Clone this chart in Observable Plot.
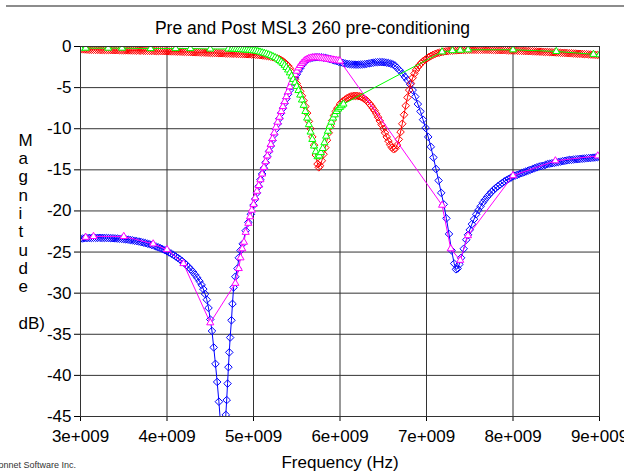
<!DOCTYPE html>
<html>
<head>
<meta charset="utf-8">
<script src="https://cdn.jsdelivr.net/npm/d3@7"></script>
<script src="https://cdn.jsdelivr.net/npm/@observablehq/plot@0.6"></script>
<style>
  html, body { margin: 0; padding: 0; background: #fff; }
  #wrap { position: relative; width: 624px; height: 475px; overflow: hidden; }
</style>
</head>
<body>
<div id="wrap"></div>
<script>
// ---- tick values / labels ----
const xTicks = [3, 4, 5, 6, 7, 8, 9];            // GHz
const xTickLabels = ["3e+009", "4e+009", "5e+009", "6e+009", "7e+009", "8e+009", "9e+009"];
const yTicks = [0, -5, -10, -15, -20, -25, -30, -35, -40, -45];

const titleText = "Pre and Post MSL3 260 pre-conditioning";
const xLabel = "Frequency (Hz)";
const yLabelLines = ["M", "a", "g", "n", "i", "t", "u", "d", "e", "\u00a0", "dB)"];
const captionText = "Sonnet Software Inc.";

// ---- series: [frequency (GHz), magnitude (dB)] ----
// Red diamonds (pre)
const redPts = [
  [3.000,-0.35],[3.025,-0.35],[3.050,-0.36],[3.075,-0.38],[3.100,-0.40],[3.125,-0.40],[3.150,-0.40],[3.175,-0.41],
  [3.200,-0.41],[3.225,-0.42],[3.250,-0.42],[3.275,-0.42],[3.300,-0.43],[3.325,-0.43],[3.350,-0.44],[3.375,-0.44],
  [3.400,-0.45],[3.425,-0.45],[3.450,-0.46],[3.475,-0.46],[3.500,-0.47],[3.525,-0.47],[3.550,-0.48],[3.575,-0.48],
  [3.600,-0.49],[3.625,-0.49],[3.650,-0.50],[3.675,-0.50],[3.700,-0.51],[3.725,-0.51],[3.750,-0.52],[3.775,-0.52],
  [3.800,-0.53],[3.825,-0.54],[3.850,-0.54],[3.875,-0.55],[3.900,-0.55],[3.925,-0.56],[3.950,-0.57],[3.975,-0.57],
  [4.000,-0.58],[4.025,-0.59],[4.050,-0.60],[4.075,-0.60],[4.100,-0.61],[4.125,-0.62],[4.150,-0.63],[4.175,-0.64],
  [4.200,-0.65],[4.225,-0.66],[4.250,-0.67],[4.275,-0.68],[4.300,-0.69],[4.325,-0.70],[4.350,-0.71],[4.375,-0.72],
  [4.400,-0.73],[4.425,-0.74],[4.450,-0.75],[4.475,-0.76],[4.500,-0.77],[4.525,-0.78],[4.550,-0.79],[4.575,-0.80],
  [4.600,-0.81],[4.625,-0.82],[4.650,-0.83],[4.675,-0.84],[4.700,-0.85],[4.725,-0.86],[4.750,-0.87],[4.775,-0.88],
  [4.800,-0.89],[4.825,-0.90],[4.850,-0.91],[4.875,-0.92],[4.900,-0.93],[4.925,-0.94],[4.950,-0.95],[4.975,-0.97],
  [5.000,-0.98],[5.025,-1.00],[5.050,-1.02],[5.075,-1.05],[5.100,-1.08],[5.125,-1.11],[5.150,-1.15],[5.175,-1.19],
  [5.200,-1.24],[5.225,-1.30],[5.250,-1.37],[5.275,-1.45],[5.300,-1.55],[5.32,-1.68],[5.34,-1.8],[5.36,-1.97],
  [5.38,-2.15],[5.40,-2.35],[5.42,-2.65],[5.44,-3.1],[5.46,-3.55],[5.48,-4.0],[5.50,-4.5],[5.52,-4.95],
  [5.54,-5.45],[5.56,-6.0],[5.58,-6.6],[5.60,-7.3],[5.62,-8.1],[5.64,-9.1],[5.66,-10.0],[5.68,-11.0],
  [5.70,-12.0],[5.72,-13.2],[5.74,-14.3],[5.755,-14.7],[5.77,-14.5],[5.79,-13.9],[5.81,-13.1],[5.83,-12.3],
  [5.85,-11.4],[5.87,-10.5],[5.89,-9.7],[5.91,-9.0],[5.93,-8.4],[5.95,-7.9],[5.97,-7.5],[6.00,-7.0],
  [6.02,-6.8],[6.04,-6.6],[6.06,-6.45],[6.08,-6.3],[6.10,-6.2],[6.12,-6.1],[6.14,-6.05],[6.16,-6.0],
  [6.18,-6.0],[6.20,-6.0],[6.22,-6.05],[6.24,-6.1],[6.26,-6.2],[6.28,-6.35],[6.30,-6.5],[6.32,-6.7],
  [6.34,-6.95],[6.36,-7.2],[6.38,-7.5],[6.40,-7.8],[6.42,-8.2],[6.44,-8.6],[6.46,-9.05],[6.48,-9.5],
  [6.50,-10.0],[6.52,-10.5],[6.54,-11.0],[6.56,-11.5],[6.58,-11.95],[6.60,-12.3],[6.62,-12.5],[6.64,-12.4],
  [6.66,-12.0],[6.68,-11.3],[6.70,-10.4],[6.72,-9.4],[6.74,-8.3],[6.76,-7.2],[6.78,-6.2],[6.80,-5.3],
  [6.82,-4.5],[6.84,-3.8],[6.86,-3.3],[6.88,-2.85],[6.90,-2.5],[6.92,-2.25],[6.94,-2.0],[6.96,-1.8],
  [6.98,-1.65],[7.00,-1.5],[7.025,-1.3],[7.050,-1.15],[7.075,-1.02],[7.100,-0.9],[7.125,-0.82],[7.150,-0.75],
  [7.175,-0.68],[7.200,-0.62],[7.225,-0.58],[7.250,-0.55],[7.275,-0.52],[7.300,-0.5],[7.325,-0.48],[7.350,-0.46],
  [7.375,-0.45],[7.400,-0.44],[7.425,-0.43],[7.450,-0.42],[7.475,-0.41],[7.500,-0.4],[7.525,-0.4],[7.550,-0.4],
  [7.575,-0.4],[7.600,-0.4],[7.625,-0.4],[7.650,-0.4],[7.675,-0.4],[7.700,-0.4],[7.725,-0.41],[7.750,-0.41],
  [7.775,-0.42],[7.800,-0.42],[7.825,-0.43],[7.850,-0.44],[7.875,-0.45],[7.900,-0.45],[7.925,-0.46],[7.950,-0.47],
  [7.975,-0.48],[8.000,-0.49],[8.025,-0.5],[8.050,-0.51],[8.075,-0.52],[8.100,-0.53],[8.125,-0.54],[8.150,-0.55],
  [8.175,-0.56],[8.200,-0.57],[8.225,-0.58],[8.250,-0.6],[8.275,-0.61],[8.300,-0.62],[8.325,-0.63],[8.350,-0.65],
  [8.375,-0.66],[8.400,-0.67],[8.425,-0.69],[8.450,-0.7],[8.475,-0.71],[8.500,-0.73],[8.525,-0.74],[8.550,-0.76],
  [8.575,-0.77],[8.600,-0.79],[8.625,-0.8],[8.650,-0.82],[8.675,-0.83],[8.700,-0.85],[8.725,-0.86],[8.750,-0.88],
  [8.775,-0.89],[8.800,-0.91],[8.825,-0.93],[8.850,-0.94],[8.875,-0.96],[8.900,-0.98],[8.925,-0.99],[8.950,-1.01],
  [8.975,-1.03],[9.000,-1.05]
];

// Green triangles (post)
const greenPts = [
  [3.00,-0.2],[3.06,-0.2],[3.32,-0.2],[3.48,-0.2],[3.81,-0.25],[4.10,-0.25],[4.27,-0.25],[4.50,-0.3],
  [4.71,-0.3],[4.75,-0.3],[4.775,-0.32],[4.80,-0.34],[4.825,-0.36],[4.85,-0.37],[4.875,-0.39],[4.90,-0.41],
  [4.925,-0.43],[4.95,-0.45],[4.975,-0.48],[5.00,-0.51],[5.025,-0.55],[5.05,-0.6],[5.075,-0.67],[5.10,-0.75],
  [5.125,-0.82],[5.15,-0.9],[5.175,-1.0],[5.20,-1.1],[5.225,-1.22],[5.25,-1.35],[5.275,-1.5],[5.30,-1.7],
  [5.32,-1.87],[5.34,-2.05],[5.36,-2.28],[5.38,-2.55],[5.40,-2.85],[5.42,-3.2],[5.44,-3.6],[5.46,-4.0],
  [5.48,-4.4],[5.50,-4.85],[5.52,-5.35],[5.54,-5.9],[5.56,-6.5],[5.58,-7.15],[5.60,-7.9],[5.62,-8.7],
  [5.64,-9.5],[5.66,-10.4],[5.68,-11.3],[5.70,-12.1],[5.72,-12.8],[5.74,-13.4],[5.76,-13.3],[5.78,-12.9],
  [5.80,-12.4],[5.82,-11.7],[5.84,-10.9],[5.86,-10.3],[5.88,-9.7],[5.90,-9.2],[5.92,-8.7],[5.94,-8.3],
  [5.96,-7.9],[5.98,-7.6],[6.00,-7.4],[6.02,-7.2],[6.04,-7.0],
  [7.18,-0.65],[7.30,-0.5],[7.39,-0.45],[7.48,-0.4],[8.00,-0.4],[8.50,-0.6],[8.93,-0.95],[9.00,-1.0]
];

// Blue diamonds (pre)
const bluePts = [
  [3.000,-23.40],[3.025,-23.35],[3.050,-23.30],[3.075,-23.30],[3.100,-23.28],[3.125,-23.28],[3.150,-23.27],[3.175,-23.27],
  [3.200,-23.27],[3.225,-23.27],[3.250,-23.28],[3.275,-23.28],[3.300,-23.29],[3.325,-23.30],[3.350,-23.31],[3.375,-23.32],
  [3.400,-23.34],[3.425,-23.36],[3.450,-23.38],[3.475,-23.40],[3.500,-23.43],[3.525,-23.46],[3.550,-23.49],[3.575,-23.53],
  [3.600,-23.57],[3.625,-23.62],[3.650,-23.67],[3.675,-23.72],[3.700,-23.78],[3.725,-23.84],[3.750,-23.91],[3.775,-23.98],
  [3.800,-24.06],[3.825,-24.14],[3.850,-24.23],[3.875,-24.33],[3.900,-24.43],[3.925,-24.54],[3.950,-24.66],[3.975,-24.78],
  [4.000,-24.91],[4.025,-25.05],[4.050,-25.20],[4.075,-25.36],[4.100,-25.53],[4.125,-25.71],[4.150,-25.90],[4.175,-26.11],
  [4.200,-26.33],[4.225,-26.57],[4.250,-26.83],[4.275,-27.11],[4.300,-27.42],[4.325,-27.76],[4.350,-28.13],[4.375,-28.54],
  [4.400,-29.0],[4.420,-29.5],[4.440,-30.1],[4.460,-30.8],[4.480,-31.8],[4.50,-33.2],[4.52,-34.6],[4.54,-36.6],
  [4.56,-38.6],[4.58,-40.8],[4.60,-43.2],[4.62,-46.0],[4.645,-50.0],[4.67,-46.5],[4.68,-44.8],[4.69,-43.0],
  [4.70,-41.0],[4.71,-39.0],[4.72,-37.2],[4.73,-35.4],[4.745,-33.3],[4.757,-31.3],[4.77,-29.3],[4.79,-28.0],
  [4.815,-27.0],[4.83,-25.7],[4.85,-24.8],[4.875,-24.0],[4.91,-22.4],[4.94,-21.4],[4.97,-20.4],[5.00,-19.3],
  [5.02,-18.55],[5.04,-17.8],[5.06,-17.0],[5.08,-16.2],[5.10,-15.5],[5.12,-14.8],[5.14,-14.1],[5.16,-13.4],
  [5.18,-12.75],[5.20,-12.1],[5.22,-11.4],[5.24,-10.7],[5.26,-10.05],[5.28,-9.4],[5.30,-8.75],[5.32,-8.1],
  [5.34,-7.5],[5.36,-6.9],[5.38,-6.35],[5.40,-5.8],[5.42,-5.3],[5.44,-4.8],[5.46,-4.3],[5.48,-3.8],
  [5.50,-3.4],[5.52,-3.0],[5.54,-2.65],[5.560,-2.3],[5.585,-1.95],[5.610,-1.7],[5.635,-1.52],[5.660,-1.42],
  [5.685,-1.36],[5.710,-1.32],[5.735,-1.3],[5.760,-1.3],[5.785,-1.32],[5.810,-1.36],[5.835,-1.4],[5.860,-1.46],
  [5.885,-1.53],[5.910,-1.61],[5.935,-1.7],[5.960,-1.78],[5.985,-1.86],[6.010,-1.93],[6.035,-2.0],[6.060,-2.06],
  [6.085,-2.11],[6.110,-2.15],[6.135,-2.18],[6.160,-2.2],[6.185,-2.21],[6.210,-2.21],[6.235,-2.2],[6.260,-2.18],
  [6.285,-2.15],[6.310,-2.11],[6.335,-2.06],[6.360,-2.01],[6.385,-1.97],[6.410,-1.93],[6.435,-1.91],[6.460,-1.9],
  [6.485,-1.9],[6.510,-1.92],[6.535,-1.96],[6.560,-2.01],[6.585,-2.08],[6.610,-2.17],[6.635,-2.3],[6.66,-2.6],
  [6.69,-2.9],[6.72,-3.3],[6.75,-3.7],[6.78,-4.1],[6.81,-4.6],[6.84,-5.3],[6.87,-6.1],[6.90,-7.0],
  [6.93,-7.9],[6.96,-8.9],[6.99,-9.9],[7.02,-11.0],[7.05,-12.2],[7.08,-13.5],[7.11,-14.9],[7.14,-16.3],
  [7.17,-17.8],[7.20,-19.2],[7.23,-20.9],[7.26,-22.8],[7.29,-24.8],[7.32,-26.4],[7.34,-27.1],[7.36,-27.0],
  [7.38,-26.5],[7.40,-25.7],[7.43,-24.6],[7.46,-23.5],[7.48,-22.9],
  [7.500,-22.3],[7.525,-21.6],[7.550,-21.0],[7.575,-20.4],[7.600,-19.9],[7.625,-19.45],[7.650,-19.0],[7.675,-18.65],
  [7.700,-18.3],[7.725,-18.0],[7.750,-17.7],[7.775,-17.45],[7.800,-17.2],[7.825,-17.0],[7.850,-16.8],[7.875,-16.6],
  [7.900,-16.4],[7.925,-16.25],[7.950,-16.1],[7.975,-15.95],[8.000,-15.8],[8.025,-15.7],[8.050,-15.6],[8.075,-15.5],
  [8.100,-15.4],[8.125,-15.3],[8.150,-15.2],[8.175,-15.1],[8.200,-15.0],[8.225,-14.9],[8.250,-14.8],[8.275,-14.7],
  [8.300,-14.6],[8.325,-14.55],[8.350,-14.5],[8.375,-14.4],[8.400,-14.3],[8.425,-14.25],[8.450,-14.2],[8.475,-14.15],
  [8.500,-14.1],[8.525,-14.05],[8.550,-14.0],[8.575,-13.95],[8.600,-13.9],[8.625,-13.85],[8.650,-13.8],[8.675,-13.78],
  [8.700,-13.75],[8.725,-13.72],[8.750,-13.7],[8.775,-13.67],[8.800,-13.65],[8.825,-13.62],[8.850,-13.6],[8.875,-13.57],
  [8.900,-13.55],[8.925,-13.52],[8.950,-13.5],[8.975,-13.47],[9.000,-13.45]
];

// Magenta triangles (post)
const magentaPts = [
  [3.06,-23.2],[3.15,-23.1],[3.50,-23.1],[3.84,-24.0],[4.00,-24.7],[4.19,-26.4],[4.50,-33.6],[4.79,-28.8],
  [4.83,-27.0],[4.85,-25.7],[4.87,-24.6],[4.89,-23.8],[4.91,-22.6],[4.94,-21.5],[4.96,-20.7],[4.98,-19.9],
  [5.00,-19.2],[5.02,-18.4],[5.04,-17.6],[5.06,-16.9],[5.08,-16.2],[5.10,-15.5],[5.12,-14.7],[5.14,-14.0],
  [5.16,-13.3],[5.18,-12.6],[5.20,-11.9],[5.22,-11.2],[5.24,-10.5],[5.26,-9.8],[5.28,-9.2],[5.30,-8.6],
  [5.32,-7.9],[5.34,-7.3],[5.36,-6.7],[5.38,-6.1],[5.40,-5.5],[5.42,-4.9],[5.44,-4.35],[5.46,-3.85],
  [5.48,-3.4],[5.50,-3.0],[5.52,-2.6],[5.54,-2.3],[5.56,-2.05],[5.58,-1.85],[5.60,-1.65],[5.62,-1.55],
  [5.64,-1.45],[5.66,-1.4],[5.68,-1.37],[5.70,-1.35],[5.72,-1.35],[5.74,-1.35],[5.76,-1.36],[5.78,-1.4],
  [5.80,-1.43],[5.82,-1.47],[5.84,-1.5],[5.86,-1.53],[5.88,-1.57],[5.90,-1.6],[5.92,-1.63],[5.94,-1.66],
  [5.96,-1.7],[5.98,-1.73],[6.00,-1.76],
  [7.18,-19.3],[7.28,-24.6],[7.39,-26.0],[7.48,-23.0],[8.00,-15.7],[8.49,-13.9],[8.98,-13.3]
];

const fx = d => d[0];
const fy = d => d[1];
const FONT = "Liberation Sans, Arial, sans-serif";

function series(pts, color, symbol, fill) {
  return [
    Plot.line(pts, {x: fx, y: fy, stroke: color, strokeWidth: 1, clip: true}),
    Plot.dot(pts, {x: fx, y: fy, symbol, r: 3.4, stroke: color, strokeWidth: 1, fill, clip: true})
  ];
}

const chart = Plot.plot({
  width: 624,
  height: 475,
  marginLeft: 80,
  marginRight: 25,
  marginTop: 46,
  marginBottom: 59,
  style: {fontFamily: FONT, fontSize: "17px", color: "#000", background: "#fff"},
  x: {domain: [3, 9], ticks: xTicks, tickFormat: (d, i) => xTickLabels[i], tickSize: 5, tickPadding: 8, label: null},
  y: {domain: [-45, 0], ticks: yTicks, tickFormat: d => String(d), tickSize: 6, tickPadding: 3, label: null},
  marks: [
    Plot.ruleX(xTicks, {stroke: "#333", strokeWidth: 1}),
    Plot.ruleY(yTicks, {stroke: "#333", strokeWidth: 1}),
    ...series(bluePts, "#0000ff", "diamond2", "none"),
    ...series(redPts, "#ff0000", "diamond2", "none"),
    ...series(magentaPts, "#ff00ff", "triangle2", "white"),
    ...series(greenPts, "#00ff00", "triangle2", "white"),
    Plot.frame({stroke: "#333"}),
    Plot.text([titleText], {frameAnchor: "top", lineAnchor: "middle", dx: -27.5, dy: -18, fontSize: 17.5, fontFamily: FONT, fill: "#000"}),
    Plot.text([xLabel], {frameAnchor: "bottom", lineAnchor: "middle", dy: 46, fontSize: 17, fontFamily: FONT, fill: "#000"}),
    Plot.text([yLabelLines.join("\n")], {frameAnchor: "left", lineAnchor: "middle", dx: -62, lineHeight: 1.08, fontSize: 17, fontFamily: FONT, fill: "#000"}),
    Plot.text([captionText], {frameAnchor: "bottom-left", lineAnchor: "middle", textAnchor: "start", dx: -88, dy: 49, fontSize: 9, fontFamily: FONT, fill: "#333"})
  ]
});

// decorative window border line across the top of the picture
d3.select(chart).append("line")
  .attr("x1", 6).attr("x2", 624).attr("y1", 6).attr("y2", 6)
  .attr("stroke", "#8c8c8c").attr("stroke-width", 2);

document.getElementById("wrap").appendChild(chart);
</script>
</body>
</html>
